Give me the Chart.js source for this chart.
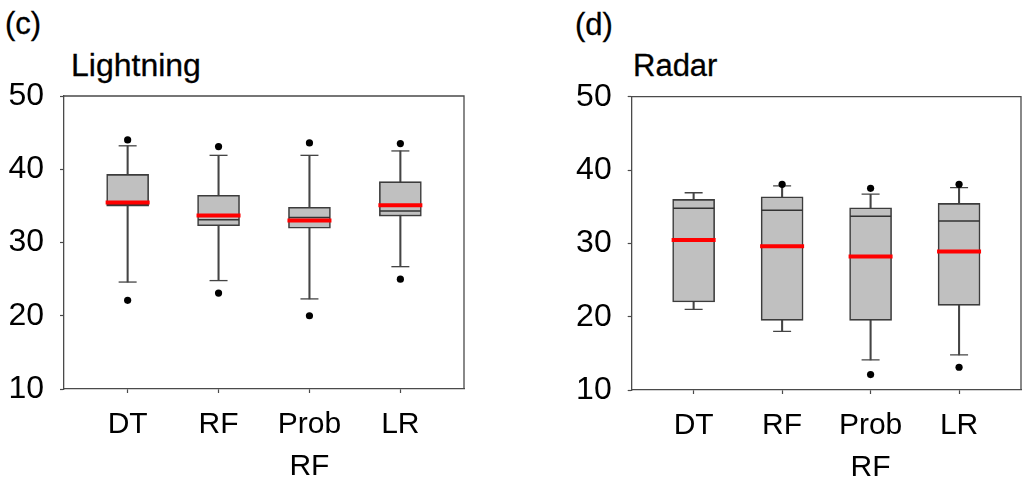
<!DOCTYPE html>
<html>
<head>
<meta charset="utf-8">
<script src="https://cdn.jsdelivr.net/npm/chart.js@4.4.1/dist/chart.umd.min.js"></script>
<style>
  html, body { margin:0; padding:0; background:#fff; width:1030px; height:478px; overflow:hidden; position:relative; }
  .lbl { position:absolute; font-family:"Liberation Sans", Arial, sans-serif; color:#000; line-height:1; white-space:nowrap; -webkit-text-stroke:0.3px #000; }
  canvas { position:absolute; top:0; }
</style>
</head>
<body>
<div class="lbl" style="left:5px; top:8px; font-size:31px;">(c)</div>
<div class="lbl" style="left:71px; top:49px; font-size:32px;">Lightning</div>
<div class="lbl" style="left:575px; top:9px; font-size:31px;">(d)</div>
<div class="lbl" style="left:633px; top:50px; font-size:31px;">Radar</div>
<div style="position:absolute;left:0;top:0;width:490px;height:478px;"><canvas id="c1" width="490" height="478"></canvas></div>
<div style="position:absolute;left:567px;top:0;width:480px;height:478px;"><canvas id="c2" width="480" height="478"></canvas></div>
<script>
// ---- data ----
const categories = ['DT', 'RF', ['Prob', 'RF'], 'LR'];
const yTicks = [10, 20, 30, 40, 50];

// Lightning panel (c)
const lWhiskerLow  = [24.6, 24.8, 22.3, 26.7];
const lQ1          = [34.95, 32.3, 31.95, 33.6];
const lMedian      = [35.2, 33.1, 33.4, 34.3];
const lQ3          = [39.3, 36.45, 34.8, 38.3];
const lWhiskerHigh = [43.2, 41.9, 41.9, 42.5];
const lMean        = [35.45, 33.7, 33.0, 35.1];
const lOutliers    = [[22.1, 44.0], [23.1, 43.1], [20.0, 43.6], [25.0, 43.5]];

// Radar panel (d)
const rWhiskerLow  = [21.0, 18.0, 14.1, 14.8];
const rQ1          = [22.0, 19.5, 19.5, 21.55];
const rMedian      = [34.8, 34.5, 33.7, 33.05];
const rQ3          = [36.0, 36.35, 34.85, 35.45];
const rWhiskerHigh = [36.9, 37.85, 36.7, 37.6];
const rMean        = [30.45, 29.6, 28.2, 28.9];
const rOutliers    = [[], [38.05], [12.1, 37.5], [13.1, 38.05]];

const FONT = '"Liberation Sans", Arial, sans-serif';
const AX = '#4a4a4a';

const frame = {
  id: 'frame',
  afterDatasetsDraw(chart) {
    const a = chart.chartArea, ctx = chart.ctx;
    ctx.save();
    ctx.strokeStyle = AX; ctx.lineWidth = 1.3;
    ctx.beginPath();
    ctx.moveTo(a.left, a.top); ctx.lineTo(a.right, a.top); ctx.lineTo(a.right, a.bottom);
    ctx.stroke();
    ctx.restore();
  }
};

function makeChart(id, d, geo) {
  const idx = [0, 1, 2, 3];
  const outPts = [];
  d.out.forEach((arr, i) => arr.forEach(v => outPts.push({x: i, y: v})));
  return new Chart(document.getElementById(id), {
    type: 'bar',
    data: {
      datasets: [
        { type: 'scatter', order: 0, data: outPts, pointStyle: 'circle', pointRadius: 3.6, pointHoverRadius: 3.6,
          backgroundColor: '#000', borderWidth: 0 },
        { type: 'scatter', order: 1, data: idx.map(i => ({x: i, y: d.mean[i]})), pointStyle: 'line',
          pointRadius: 22, pointHoverRadius: 22, borderColor: '#ff0000', borderWidth: 4, backgroundColor: '#ff0000' },
        { type: 'scatter', order: 2, data: idx.map(i => ({x: i, y: d.med[i]})), pointStyle: 'line',
          pointRadius: 20.5, pointHoverRadius: 20.5, borderColor: '#333', borderWidth: 1.5 },
        { type: 'bar', order: 3, grouped: false, data: idx.map(i => ({x: i, y: [d.q1[i], d.q3[i]]})),
          backgroundColor: '#c0c0c0', borderColor: '#3c3c3c', borderWidth: 1.6, borderSkipped: false, barThickness: 42 },
        { type: 'scatter', order: 4, data: idx.map(i => ({x: i, y: d.lo[i]})).concat(idx.map(i => ({x: i, y: d.hi[i]}))),
          pointStyle: 'line', pointRadius: 9, pointHoverRadius: 9, borderColor: '#444', borderWidth: 1.3 },
        { type: 'bar', order: 5, grouped: false, data: idx.map(i => ({x: i, y: [d.lo[i], d.hi[i]]})),
          backgroundColor: '#444', borderWidth: 0, barThickness: 1.4 }
      ]
    },
    options: {
      responsive: false, animation: false, events: [],
      layout: { padding: { left: 0, right: geo.padRight, top: geo.top, bottom: 0 } },
      plugins: { legend: { display: false }, tooltip: { enabled: false } },
      scales: {
        x: {
          type: 'linear', min: -0.7, max: 3.7, offset: false,
          afterFit(s) { s.height = geo.xh; },
          border: { display: true, color: AX, width: 1.3 },
          grid: { display: true, offset: false, drawOnChartArea: false, drawTicks: true, tickLength: 4, tickColor: AX, tickWidth: 1.2 },
          ticks: {
            stepSize: 1, includeBounds: false, autoSkip: false, maxRotation: 0, minRotation: 0,
            padding: 11, color: '#000', font: { family: FONT, size: 30, lineHeight: 1.4 },
            callback: (v) => Number.isInteger(v) && v >= 0 && v < categories.length ? categories[v] : ''
          }
        },
        y: {
          type: 'linear', min: yTicks[0], max: yTicks[yTicks.length - 1],
          afterFit(s) { s.width = geo.yw; },
          border: { display: true, color: AX, width: 1.3 },
          grid: { display: true, drawOnChartArea: false, drawTicks: true, tickLength: 4, tickColor: AX, tickWidth: 1.2 },
          ticks: { stepSize: 10, padding: 16, color: '#000', font: { family: FONT, size: 32 } }
        }
      }
    },
    plugins: [frame]
  });
}

makeChart('c1', { lo: lWhiskerLow, q1: lQ1, med: lMedian, q3: lQ3, hi: lWhiskerHigh, mean: lMean, out: lOutliers },
  { padRight: 18.3, top: 96, xh: 89, yw: 64 });
makeChart('c2', { lo: rWhiskerLow, q1: rQ1, med: rMedian, q3: rQ3, hi: rWhiskerHigh, mean: rMean, out: rOutliers },
  { padRight: 9.6, top: 96.7, xh: 88, yw: 64.7 });
</script>
</body>
</html>
